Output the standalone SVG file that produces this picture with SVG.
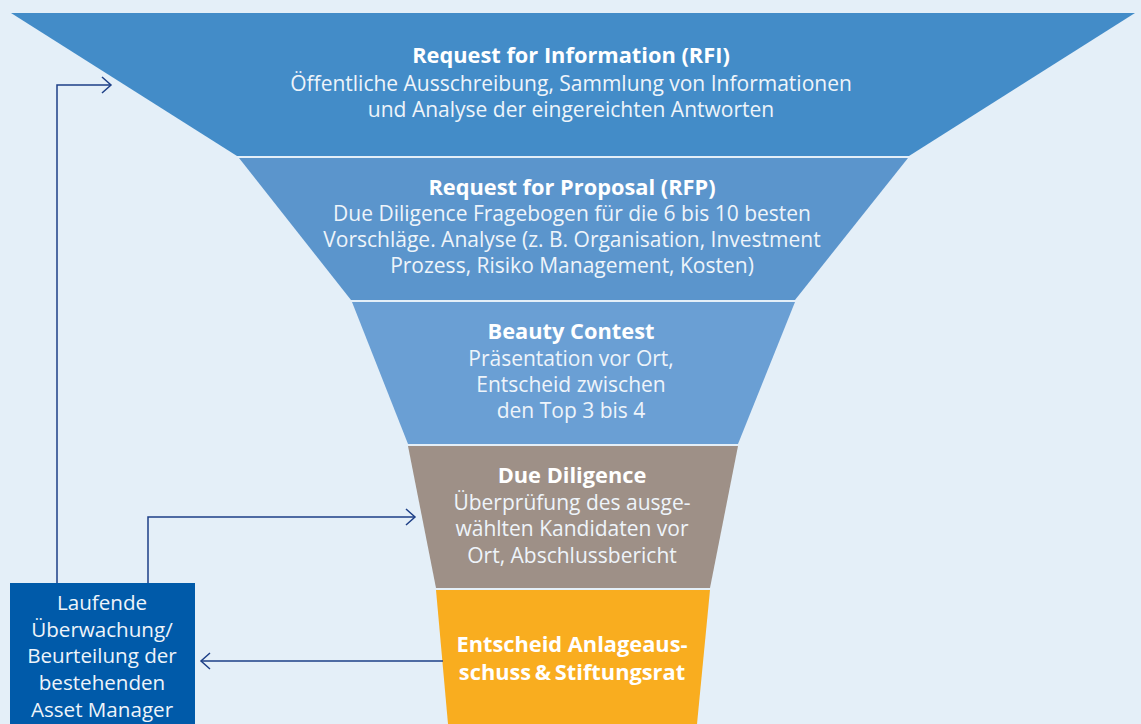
<svg xmlns="http://www.w3.org/2000/svg" width="1141" height="724" viewBox="0 0 1141 724">
<style>
.t{font-family:"Open Sans","Liberation Sans",Arial,sans-serif;fill:#ffffff;text-anchor:middle}
.h{font-weight:bold;font-size:21.8px}
.b{font-size:21px;fill:#eef4fa}
.m{font-size:20.6px;fill:#eef4fa}
.c{fill:none;stroke:#1d3f87;stroke-width:1.5}
</style>
<defs>
<marker id="ar" markerWidth="12" markerHeight="18" refX="10" refY="9" orient="auto" markerUnits="userSpaceOnUse">
<path d="M1,1 L10,9 L1,17" fill="none" stroke="#1d3f87" stroke-width="1.5"/>
</marker>
</defs>
<rect width="1141" height="724" fill="#e4eff8"/>
<g id="rfi">
<polygon points="11,13 1135,13 909,156 237,156" fill="#438cc8"/>
<text class="t h" x="571" y="63">Request for Information (RFI)</text>
<text class="t b" x="571" y="91">Öffentliche Ausschreibung, Sammlung von Informationen</text>
<text class="t b" x="571" y="117">und Analyse der eingereichten Antworten</text>
</g>
<g id="rfp">
<polygon points="239,158 908,158 795,300 351,300" fill="#5b95cc"/>
<text class="t h" x="572" y="195">Request for Proposal (RFP)</text>
<text class="t b" x="572" y="221">Due Diligence Fragebogen für die 6 bis 10 besten</text>
<text class="t b" x="572" y="247">Vorschläge. Analyse (z. B. Organisation, Investment</text>
<text class="t b" x="572" y="273">Prozess, Risiko Management, Kosten)</text>
</g>
<g id="beauty">
<polygon points="352,302 795,302 738,444 408,444" fill="#6a9fd4"/>
<text class="t h" x="571" y="339">Beauty Contest</text>
<text class="t b" x="571" y="366">Präsentation vor Ort,</text>
<text class="t b" x="571" y="392">Entscheid zwischen</text>
<text class="t b" x="571" y="418">den Top 3 bis 4</text>
</g>
<g id="duediligence">
<polygon points="408,446 738,446 710,588 436,588" fill="#9e9087"/>
<text class="t h" x="572" y="483">Due Diligence</text>
<text class="t b" x="572" y="510">Überprüfung des ausge-</text>
<text class="t b" x="572" y="536">wählten Kandidaten vor</text>
<text class="t b" x="572" y="563">Ort, Abschlussbericht</text>
</g>
<g id="entscheid">
<polygon points="436,590 710,590 697,724 448,724" fill="#f9ad1f"/>
<text class="t h" x="572" y="652">Entscheid Anlageaus-</text>
<text class="t h" x="572" y="680">schuss&#8201;&amp;&#8201;Stiftungsrat</text>
</g>
<g id="monitoring">
<rect x="10" y="583" width="185" height="141" fill="#005aa9"/>
<text class="t m" x="102" y="610">Laufende</text>
<text class="t m" x="102" y="637">Überwachung/</text>
<text class="t m" x="102" y="663">Beurteilung der</text>
<text class="t m" x="102" y="690">bestehenden</text>
<text class="t m" x="102" y="717">Asset Manager</text>
</g>
<g id="connectors">
<path class="c" d="M57,583 V85 H111" marker-end="url(#ar)"/>
<path class="c" d="M148,583 V517 H415" marker-end="url(#ar)"/>
<path class="c" d="M443,661 H201" marker-end="url(#ar)"/>
</g>
</svg>
